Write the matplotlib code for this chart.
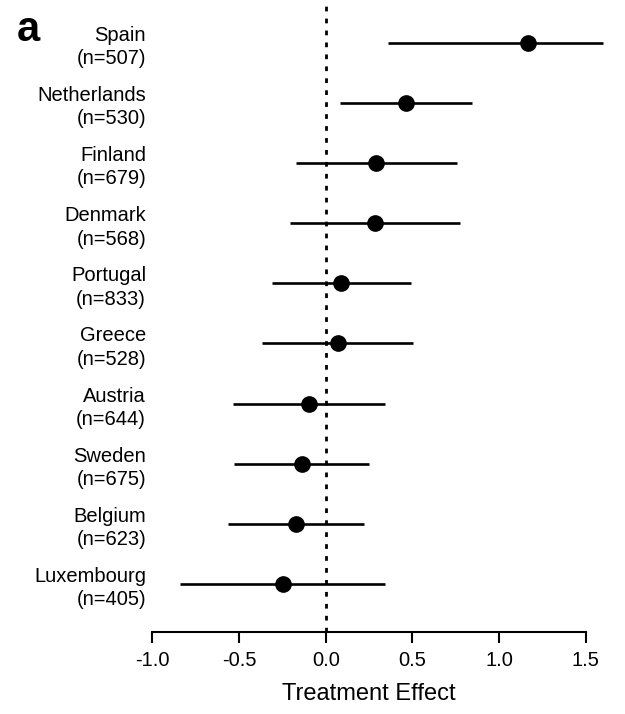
import matplotlib
matplotlib.use("Agg")
import matplotlib.pyplot as plt

plt.rcParams['font.family'] = ['Liberation Sans', 'DejaVu Sans']
plt.rcParams['lines.scale_dashes'] = False

countries = ["Spain", "Netherlands", "Finland", "Denmark", "Portugal",
             "Greece", "Austria", "Sweden", "Belgium", "Luxembourg"]
n_obs = [507, 530, 679, 568, 833, 528, 644, 675, 623, 405]
effect = [1.168, 0.463, 0.292, 0.282, 0.088, 0.069, -0.097, -0.139, -0.169, -0.248]
lower = [0.361, 0.082, -0.173, -0.206, -0.310, -0.368, -0.534, -0.527, -0.561, -0.840]
upper = [1.596, 0.845, 0.755, 0.774, 0.490, 0.505, 0.344, 0.252, 0.223, 0.344]
xticks = [-1.0, -0.5, 0.0, 0.5, 1.0, 1.5]
xtick_labels = ["-1.0", "-0.5", "0.0", "0.5", "1.0", "1.5"]

fig = plt.figure(figsize=(6.25, 7.14), dpi=100)
ax = fig.add_axes([0.2437, 0.1148, 0.979 - 0.2437, 1 - 0.1148])

k = len(countries)
ypos = [k - 1 - i for i in range(k)]

ax.axvline(0, color='black', lw=2.0, linestyle=(0, (3.4, 5.2)), zorder=1)
ax.hlines(ypos, lower, upper, color='black', lw=1.9, zorder=2)
ax.plot(effect, ypos, 'o', color='black', markersize=11, zorder=3)

xmin, xmax = -1.0, 1.65
ax.set_xlim(xmin, xmax)
ax.set_ylim(-0.8, k - 1 + 0.71)

ax.set_yticks(ypos)
ax.set_yticklabels([f"{c}\n(n={n})" for c, n in zip(countries, n_obs)],
                   fontsize=14.5, multialignment='right', linespacing=1.3)
ax.tick_params(axis='y', length=0, pad=4.5)

ax.set_xticks(xticks)
ax.set_xticklabels(xtick_labels, fontsize=14.5)
ax.tick_params(axis='x', length=8, width=1.5, pad=6, direction='out')
ax.set_xlabel("Treatment Effect", fontsize=17, labelpad=9)
ax.xaxis.label.set_x(((xticks[0] + xticks[-1]) / 2 - xmin) / (xmax - xmin))

for s in ['top', 'right', 'left']:
    ax.spines[s].set_visible(False)
ax.spines['bottom'].set_linewidth(1.5)
ax.spines['bottom'].set_bounds(xticks[0], xticks[-1])

fig.text(0.027, 0.958, "a", fontsize=30, fontweight='bold', ha='left', va='center')

fig.savefig("out.png", dpi=100)
